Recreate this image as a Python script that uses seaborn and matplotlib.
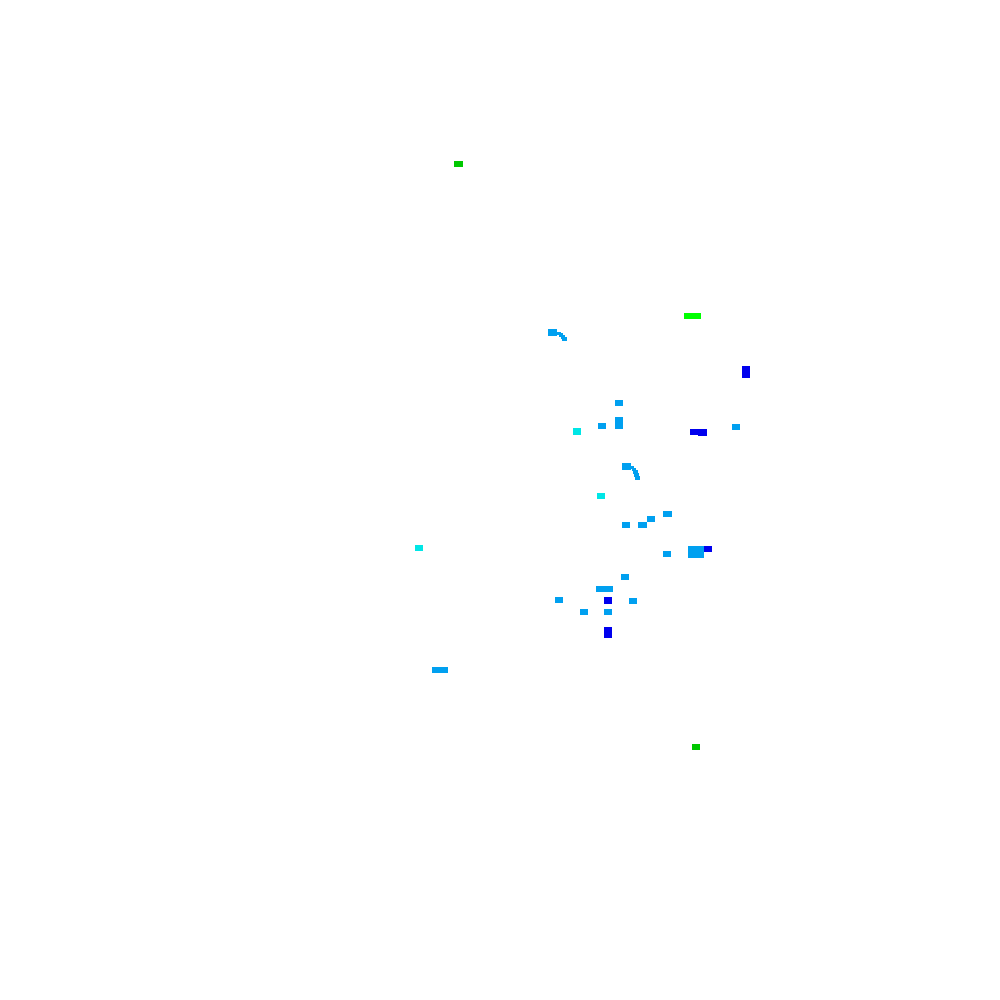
import numpy as np
import pandas as pd
import seaborn as sns
import matplotlib
matplotlib.use("Agg")
import matplotlib.pyplot as plt
from matplotlib.path import Path

# Sparse cell map: centres of the coloured cells, their class and cell kind
# ("full" = whole cell, "thin" = narrow piece of a curved trace)

x_pos = [458.5, 688.5, 696.5,
         552.5, 558.5, 561, 563, 564.5,
         746, 746,
         619, 619, 619, 602, 577, 694, 702.5, 736,
         626.5, 632, 634, 635.5, 636.5, 637.5,
         601, 667.5, 651, 626, 642.5,
         692, 700, 692, 700, 708, 667, 419,
         625, 600, 608.5, 608, 559, 633, 584, 608, 608, 608,
         436, 444, 696]
y_pos = [164, 316, 316,
         332.5, 333.5, 335, 337, 339,
         369, 375,
         403, 420, 426, 426, 431.5, 432, 432.5, 427,
         466.5, 467.5, 469.5, 472, 475, 478,
         496, 514, 519, 525, 525,
         549, 549, 555, 555, 549, 554, 548,
         577, 589, 589, 600.5, 600, 601, 612, 612, 630, 635,
         670, 670, 747]
level = ["dgreen", "green", "green",
         "azure", "azure", "azure", "azure", "azure",
         "blue", "blue",
         "azure", "azure", "azure", "azure", "cyan", "blue", "blue", "azure",
         "azure", "azure", "azure", "azure", "azure", "azure",
         "cyan", "azure", "azure", "azure", "azure",
         "azure", "azure", "azure", "azure", "blue", "azure", "cyan",
         "azure", "azure", "azure", "blue", "azure", "azure", "azure", "azure", "blue", "blue",
         "azure", "azure", "dgreen"]
kind = ["full", "full", "full",
        "full", "thin", "thin", "thin", "thin",
        "full", "full",
        "full", "full", "full", "full", "full", "full", "full", "full",
        "full", "thin", "thin", "thin", "thin", "thin",
        "full", "full", "full", "full", "full",
        "full", "full", "full", "full", "full", "full", "full",
        "full", "full", "full", "full", "full", "full", "full", "full", "full", "full",
        "full", "full", "full"]

colours = {"blue": "#0000EE", "azure": "#00A0F0", "cyan": "#00E6E6",
           "green": "#00FF00", "dgreen": "#00C800"}

df = pd.DataFrame({"x": x_pos, "y": y_pos, "level": level, "kind": kind})

# rectangular cell marker (8 x 6 px)
cell = Path([(-4, -3), (4, -3), (4, 3), (-4, 3), (-4, -3)],
            [Path.MOVETO, Path.LINETO, Path.LINETO, Path.LINETO, Path.CLOSEPOLY])

fig = plt.figure(figsize=(10, 10), dpi=100)
ax = fig.add_axes([0, 0, 1, 1])
sns.scatterplot(data=df, x="x", y="y", hue="level", palette=colours,
                size="kind", sizes={"full": 33.2, "thin": 9.0},
                marker=cell, linewidth=0, legend=False, ax=ax)
ax.set_xlim(0, 1000)
ax.set_ylim(1000, 0)
ax.axis("off")

plt.savefig("out.png", dpi=100)
